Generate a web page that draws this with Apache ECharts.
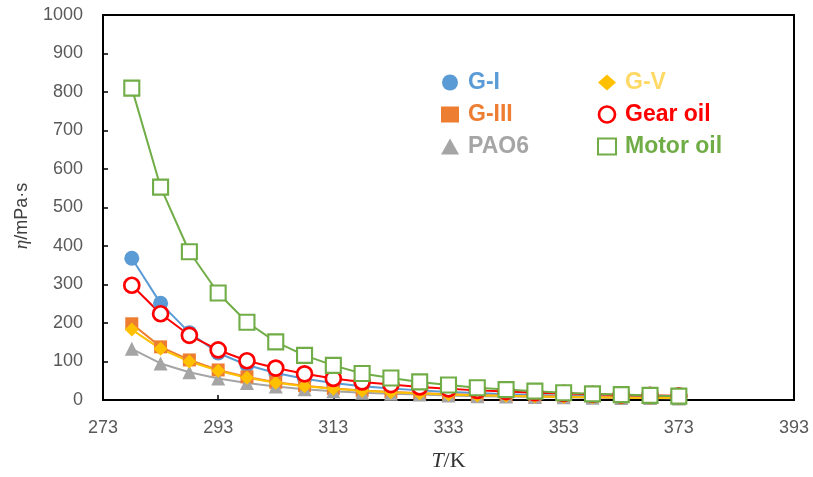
<!DOCTYPE html>
<html><head><meta charset="utf-8">
<script src="https://cdn.jsdelivr.net/npm/echarts@6/dist/echarts.min.js"></script>
<style>html,body{margin:0;padding:0;background:#fff}#c{width:813px;height:477px}</style>
</head><body><div id="c"></div>
<script>
const temperatures = [278,283,288,293,298,303,308,313,318,323,328,333,338,343,348,353,358,363,368,373];
const gI      = [368,251,175,122,91,70,55,44,36,30,25,21,18,15,13,11,10,9,8,7];
const gIII    = [198,138,104,78,60,46,37,30,25,21,18,15,13,11,10,9,8,7,6,5];
const pao6    = [133,95,72,56,44,35,28,23,19,16,14,12,10,9,8,7,6,5,5,4];
const gV      = [183,133,100,76,58,45,36,29,24,20,17,14,12,11,9,8,7,6,5,5];
const gearOil = [298,224,168,130,102,83,68,56,47,40,34,29,25,22,19,17,15,13,12,11];
const motorOil= [810,553,385,278,202,151,116,90,69,57,47,39,32,27,23,19,16,14,12,10];
const xTicks = [273,293,313,333,353,373,393];
const yTicks = [0,100,200,300,400,500,600,700,800,900,1000];

const pts = arr => arr.map((v,i)=>[temperatures[i], v]);
const C = {gI:'#5B9BD5', gIII:'#ED7D31', pao6:'#A5A5A5', gV:'#FFC000', gear:'#FF0000', motor:'#70AD47'};
const chart = echarts.init(document.getElementById('c'));
const mk = (name, data, color, symbol, size, open, bw) => ({
  name, type:'line', data: pts(data), symbol, symbolSize:size,
  lineStyle:{color, width:2},
  itemStyle: open ? {color:'#fff', borderColor:color, borderWidth:bw} : {color, borderWidth:0},
  emphasis:{disabled:true}, z: 2
});
const legText = c => ({color:c, fontSize:23, fontWeight:'bold', fontFamily:'Liberation Sans, Arial, sans-serif', padding:[0,0,0,4]});
const tickFont = {fontSize:18, color:'#595959', fontFamily:'Liberation Sans, Arial, sans-serif'};
chart.setOption({
  animation:false,
  grid:{left:103, right:19, top:15, bottom:77, show:true, borderColor:'#000', borderWidth:2, backgroundColor:'transparent'},
  legend:[
    {left:436, top:66, orient:'vertical', itemGap:9, itemWidth:18, itemHeight:16,
     data:[
      {name:'G-I', icon:'circle', itemStyle:{color:C.gI}, textStyle:legText(C.gI)},
      {name:'G-III', icon:'rect', itemStyle:{color:C.gIII}, textStyle:legText(C.gIII)},
      {name:'PAO6', icon:'triangle', itemStyle:{color:C.pao6}, textStyle:legText(C.pao6)}
     ]},
    {left:592, top:66, orient:'vertical', itemGap:9, itemWidth:18, itemHeight:16,
     data:[
      {name:'G-V', icon:'diamond', itemStyle:{color:C.gV}, textStyle:legText('#FFD966')},
      {name:'Gear oil', icon:'circle', itemStyle:{color:'#fff', borderColor:C.gear, borderWidth:2.7}, textStyle:legText(C.gear)},
      {name:'Motor oil', icon:'rect', itemStyle:{color:'#fff', borderColor:C.motor, borderWidth:2}, textStyle:legText(C.motor)}
     ]}
  ],
  graphic:[{
    type:'text', x:22, y:216, rotation:Math.PI/2,
    style:{text:'{i|η}/mPa·s', fill:'#404040', fontSize:18, fontFamily:'Liberation Sans, Arial, sans-serif',
      align:'center', verticalAlign:'middle',
      rich:{i:{fontStyle:'italic', fontSize:19, fill:'#404040', fontFamily:'Liberation Serif, serif'}}}
  }],
  xAxis:{type:'value', min:273, max:393, interval:20,
    name:'{i|T}/K', nameLocation:'middle', nameGap:50,
    nameTextStyle:{fontSize:22, color:'#333', fontFamily:'Liberation Serif, Times New Roman, serif',
      rich:{i:{fontStyle:'italic', fontSize:22, fontFamily:'Liberation Serif, serif', color:'#333'}}},
    axisLine:{lineStyle:{color:'#000', width:2}},
    axisTick:{inside:true, length:5, lineStyle:{color:'#000', width:1.5}},
    axisLabel:Object.assign({margin:19, customValues: xTicks}, tickFont),
    splitLine:{show:false}},
  yAxis:{type:'value', min:0, max:1000, interval:100,
    axisLine:{show:true, lineStyle:{color:'#000', width:2}},
    axisTick:{show:true, inside:true, length:5, lineStyle:{color:'#000', width:1.5}},
    axisLabel:Object.assign({margin:20, customValues: yTicks, formatter: v => String(v)}, tickFont),
    splitLine:{show:false}},
  series:[
    mk('G-I', gI, C.gI, 'circle', 15, false),
    mk('G-III', gIII, C.gIII, 'rect', 13, false),
    mk('PAO6', pao6, C.pao6, 'triangle', 14, false),
    mk('G-V', gV, C.gV, 'diamond', 14, false),
    mk('Gear oil', gearOil, C.gear, 'circle', 15, true, 2.7),
    mk('Motor oil', motorOil, C.motor, 'rect', 15, true, 2.1)
  ]
});
</script></body></html>
